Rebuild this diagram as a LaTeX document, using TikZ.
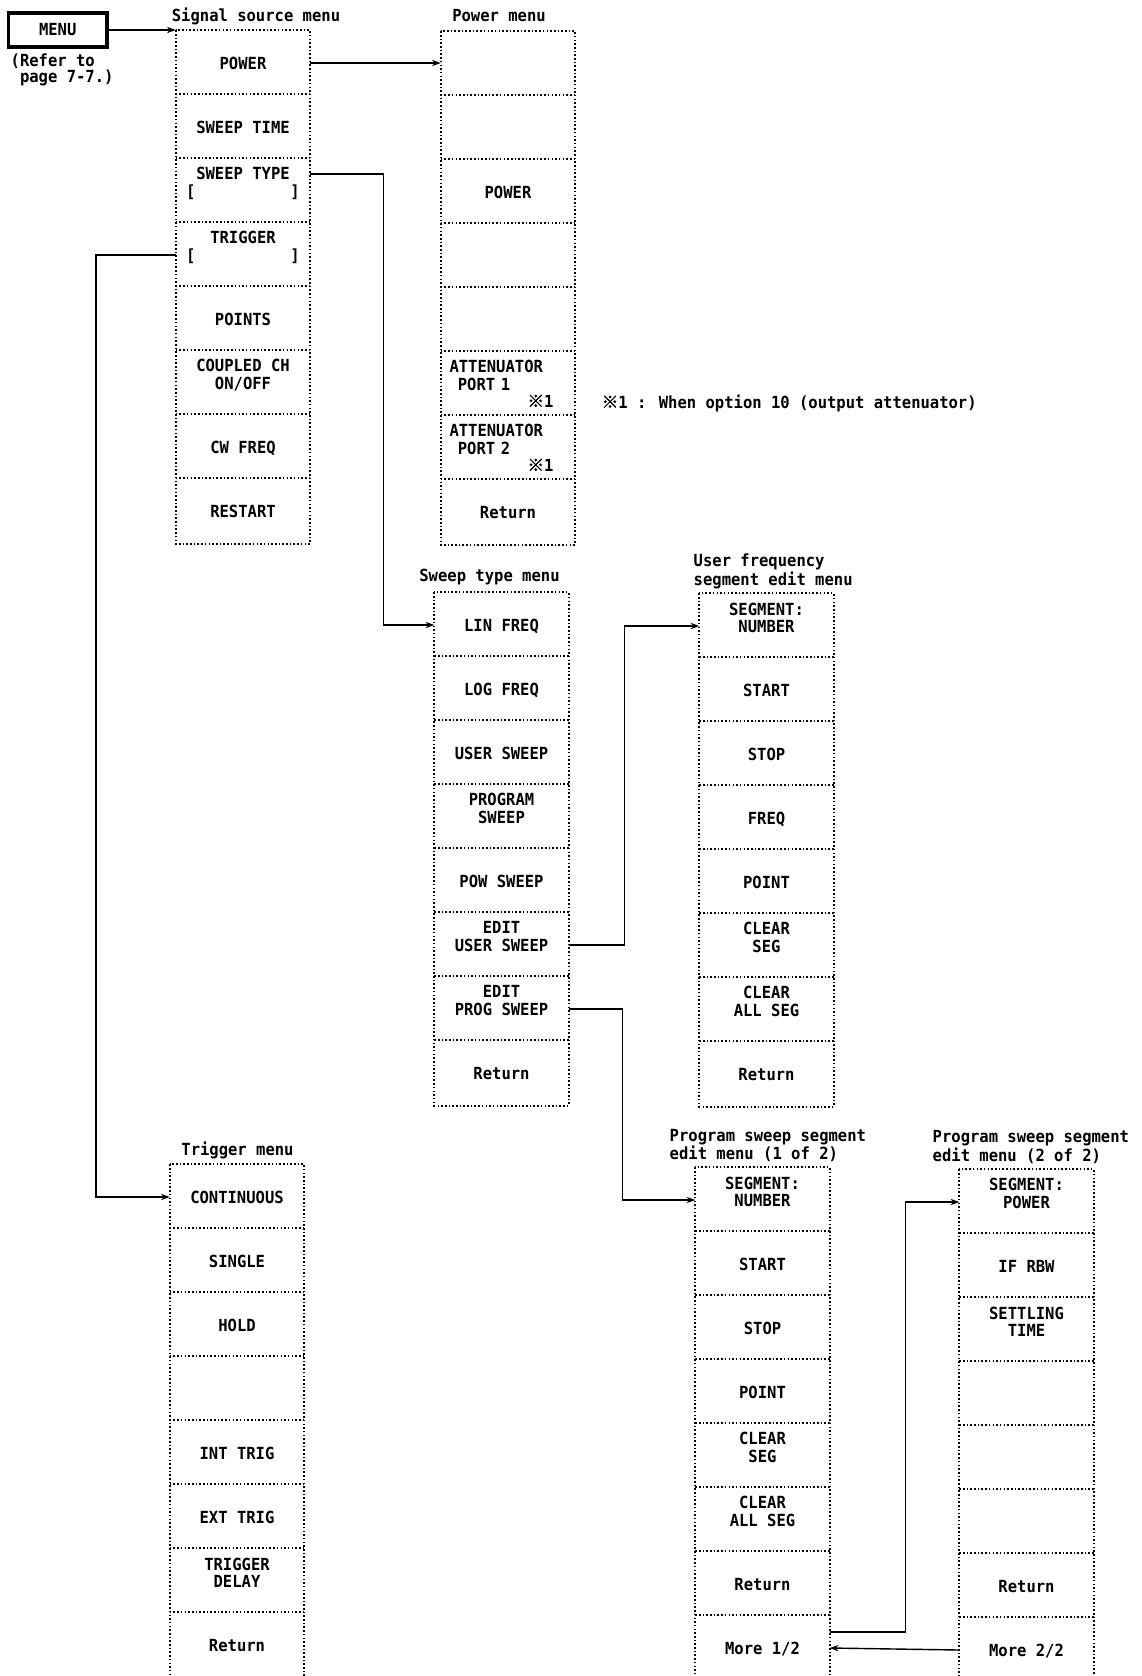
\documentclass[tikz,border=0pt]{standalone}
\usepackage{fontspec}
\usetikzlibrary{arrows.meta}
\newfontfamily\keyfont{DejaVu Sans Mono}[FakeStretch=0.93]
\newfontfamily\cjk{Noto Sans CJK JP}[FakeBold=1.5]
\newcommand{\two}[2]{\begin{tabular}[b]{@{}c@{}}#1\\#2\end{tabular}}
\newcommand{\twol}[2]{\begin{tabular}[b]{@{}l@{}}#1\\#2\end{tabular}}

\begin{document}
\begin{tikzpicture}[>={Stealth[length=5pt,width=3.6pt]}, line width=.8pt,
 every node/.style={font=\keyfont\bfseries\fontsize{9.5}{9.1}\selectfont},
 key/.style={minimum width=2.66cm,minimum height=1.28cm,inner sep=0pt,text height=6.9pt,text depth=0pt},
 dotline/.style={line width=.95pt,dash pattern=on .9pt off 1.2pt},
 attn/.style={text width=2.34cm,align=left},
 menubox/.style={draw,line width=2pt,minimum width=1.97cm,minimum height=.68cm,inner sep=0pt},
 ttl/.style={inner sep=0pt,align=left}]
\useasboundingbox (0,0) rectangle (22.84,-33.52);
\newcommand{\MenuCol}[4]{\foreach \n/\txt in {#4} \node[key] (#1-\n) at (#2,{#3-1.28*\n+.64}) {\txt};}
\newcommand{\MenuFrame}[1]{\draw[dotline] (#1-1.north west) rectangle (#1-8.south east);
 \foreach \k in {2,...,8} \draw[dotline] (#1-\k.north west) -- (#1-\k.north east);}
% start key
\node[menubox] (menu) at (1.155,-.6) {MENU};
\node[ttl,anchor=west] (refer) at (.2,-1.4) {(Refer to\\\ page 7-7.)};
% signal source menu
\node[ttl] (sig-t) at (5.12,-.32) {Signal source menu};
\MenuCol{sig}{4.86}{-.62}{1/POWER,2/SWEEP TIME,3/{\two{SWEEP TYPE}{{[}\hspace{54pt}{]}}},4/{\two{TRIGGER}{{[}\hspace{54pt}{]}}},5/POINTS,6/{\two{COUPLED CH}{ON/OFF}},7/CW FREQ,8/RESTART}
\MenuFrame{sig}
% power menu
\node[ttl] (pow-t) at (9.98,-.32) {Power menu};
\MenuCol{pow}{10.16}{-.64}{1/{},2/{},3/POWER,4/{},5/{},8/Return}
\node[key,attn,label={[anchor=east,inner sep=0pt,xshift=-.42cm,yshift=-.34cm]east:{\cjk ※}1}] (pow-6) at (10.16,-7.68) {\twol{ATTENUATOR}{\ \,PORT 1}};
\node[key,attn,label={[anchor=east,inner sep=0pt,xshift=-.42cm,yshift=-.34cm]east:{\cjk ※}1}] (pow-7) at (10.16,-8.96) {\twol{ATTENUATOR}{\ \,PORT 2}};
\MenuFrame{pow}
\node[ttl,anchor=west] (note) at (12.02,-8.06) {{\cjk ※}1 : When option 10 (output attenuator)};
% sweep type menu
\node[ttl] (swp-t) at (9.79,-11.54) {Sweep type menu};
\MenuCol{swp}{10.03}{-11.86}{1/LIN FREQ,2/LOG FREQ,3/USER SWEEP,4/{\two{PROGRAM}{SWEEP}},5/POW SWEEP,6/{\two{EDIT}{USER SWEEP}},7/{\two{EDIT}{PROG SWEEP}},8/Return}
\MenuFrame{swp}
% user frequency segment edit menu
\node[ttl,anchor=west] (usr-t) at (13.86,-11.43) {User frequency\\segment edit menu};
\MenuCol{usr}{15.33}{-11.88}{1/{\two{SEGMENT:}{NUMBER}},2/START,3/STOP,4/FREQ,5/POINT,6/{\two{CLEAR}{SEG}},7/{\two{CLEAR}{ALL SEG}},8/Return}
\MenuFrame{usr}
% program sweep segment edit menus
\node[ttl,anchor=west] (pg1-t) at (13.38,-22.91) {Program sweep segment\\edit menu (1 of 2)};
\MenuCol{pg1}{15.25}{-23.36}{1/{\two{SEGMENT:}{NUMBER}},2/START,3/STOP,4/POINT,5/{\two{CLEAR}{SEG}},6/{\two{CLEAR}{ALL SEG}},7/Return,8/{More 1/2}}
\MenuFrame{pg1}
\node[ttl,anchor=west] (pg2-t) at (18.64,-22.94) {Program sweep segment\\edit menu (2 of 2)};
\MenuCol{pg2}{20.53}{-23.40}{1/{\two{SEGMENT:}{POWER}},2/IF RBW,3/{\two{SETTLING}{TIME}},4/{},5/{},6/{},7/Return,8/{More 2/2}}
\MenuFrame{pg2}
% trigger menu
\node[ttl] (trg-t) at (4.75,-23.0) {Trigger menu};
\MenuCol{trg}{4.74}{-23.30}{1/CONTINUOUS,2/SINGLE,3/HOLD,4/{},5/INT TRIG,6/EXT TRIG,7/{\two{TRIGGER}{DELAY}},8/Return}
\MenuFrame{trg}
% connectors
\draw[->] (menu.east) -- (menu.east -| sig-1.west);
\draw[->] (sig-1.east) -- (sig-1.east -| pow-1.west);
\draw[->] ([yshift=.34cm]sig-3.east) -- ++(1.46,0) |- (swp-1.west);
\draw[->] (sig-4.west) -- ++(-1.6,0) |- (trg-1.west);
\draw[->] (swp-6.east) -- ++(1.12,0) |- (usr-1.west);
\draw[->] (swp-7.east) -- ++(1.08,0) |- (pg1-1.west);
\draw[->] ([yshift=.32cm]pg1-8.east) -- ++(1.52,0) |- (pg2-1.west);
\draw[->] (pg2-8.west) -- (pg1-8.east);
\end{tikzpicture}
\end{document}
